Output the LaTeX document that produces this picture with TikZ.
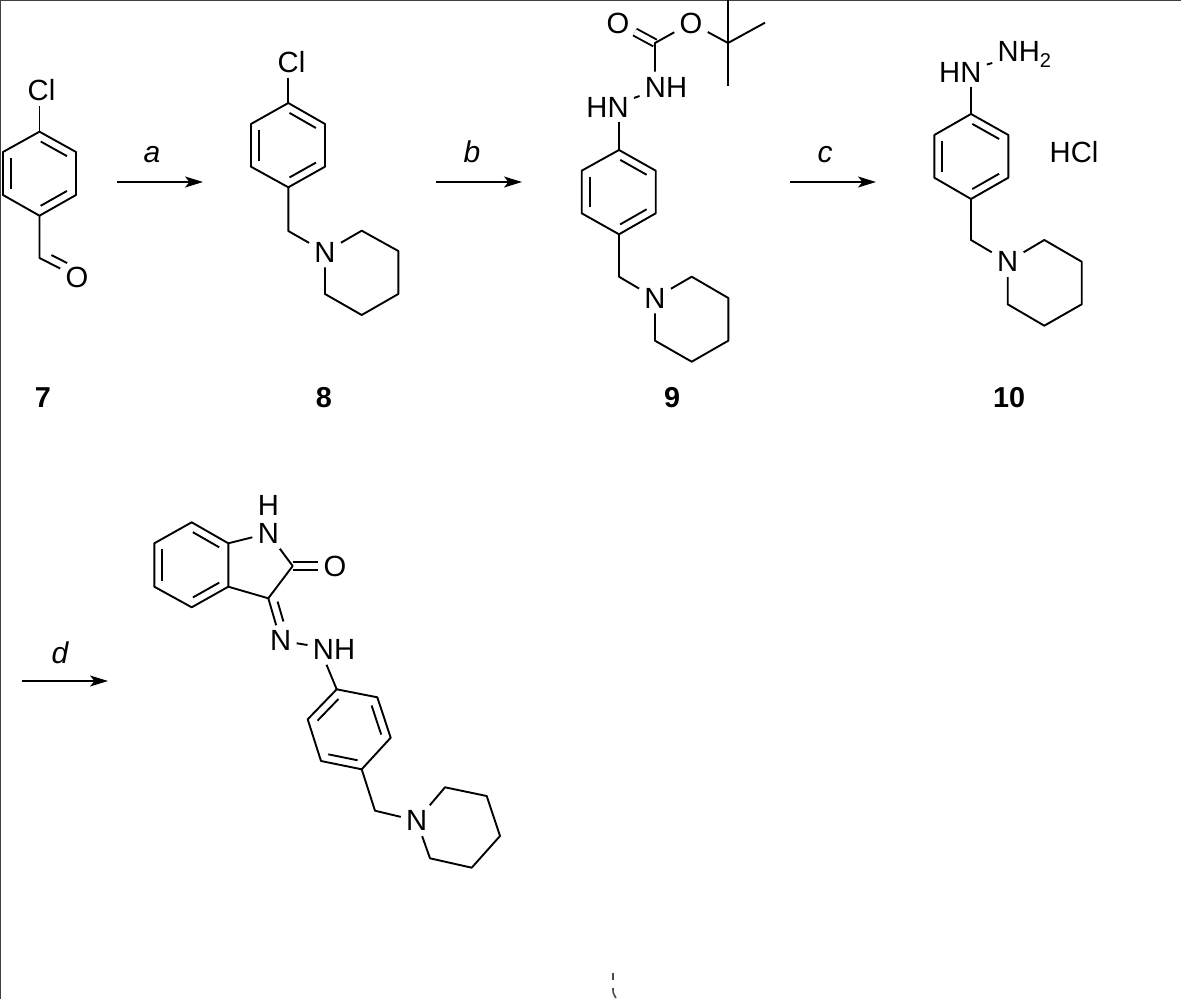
\documentclass[tikz,border=0pt]{standalone}
\usepackage{fontspec}
\setmainfont{Liberation Sans}
\usetikzlibrary{arrows.meta,calc}
\tikzset{
    bond/.style={line width=0.95pt,line join=round},
    dbond/.style={line width=0.95pt,double,double distance=2.8pt},
    atom/.style={inner sep=2.5pt,font=\fontsize{14.6}{16}\selectfont},
    cpd/.style={inner sep=0pt,font=\fontsize{14.4}{16}\selectfont\bfseries},
    rxn/.style={inner sep=0pt,anchor=base,font=\fontsize{15}{17}\selectfont\itshape},
    rxnarrow/.style={line width=0.8pt,-{Stealth[length=9pt,width=5.5pt,inset=2.2pt]}},
    frame/.style={line width=1pt,black!75},
    speck/.style={line width=0.8pt,black!70},
}
\newcommand{\inbond}[2]{\draw[bond] ($(#1)!.14!(#2)!4pt!90:(#2)$) -- ($(#1)!.86!(#2)!4pt!-90:(#1)$);}
\newcommand{\subtwo}{\raisebox{-3pt}{\fontsize{10}{10}\selectfont 2}}
\begin{document}
\begin{tikzpicture}[x=0.5pt,y=-0.5pt]
        \useasboundingbox (0,0) rectangle (1181,999);
        \coordinate (fa) at (0,999);
        \coordinate (fb) at (0,0);
        \coordinate (fc) at (1181,0);
        \draw[frame] (fa) -- (fb) -- (fc);

        \coordinate (a1) at (39.5,131.7);
        \coordinate (a2) at (76,152);
        \coordinate (a3) at (76,195);
        \coordinate (a4) at (39.5,215.7);
        \coordinate (a5) at (3,195);
        \coordinate (a6) at (3,152);
        \coordinate (a7) at (39.5,258);
        \node[atom] (cla) at (41.5,90) {Cl};
        \node[atom] (oa) at (77,277) {O};
        \draw[bond] (a1) -- (a2) -- (a3) -- (a4) -- (a5) -- (a6) -- cycle;
        \inbond{a2}{a1}
        \inbond{a4}{a3}
        \inbond{a6}{a5}
        \draw[bond] (cla.south -| a1) -- (a1);
        \draw[bond] (a4) -- (a7) -- (oa);
        \draw[bond] ($(a7)!.22!(oa)!4pt!90:(oa)$) -- ($(a7)!.64!(oa)!4pt!-90:(a7)$);
        \node[cpd] (n7) at (43,398) {7};

        \coordinate (ra1) at (117,182);
        \coordinate (ra2) at (203,182);
        \draw[rxnarrow] (ra1) -- (ra2);
        \node[rxn] (la) at (152,163) {a};

        \coordinate (b1) at (288.3,103);
        \coordinate (b2) at (325,124);
        \coordinate (b3) at (325,166.7);
        \coordinate (b4) at (288.3,187.3);
        \coordinate (b5) at (251,166.7);
        \coordinate (b6) at (251,124);
        \coordinate (b7) at (288.3,231);
        \coordinate (b8) at (361.7,230.7);
        \coordinate (b9) at (398.3,251);
        \coordinate (b10) at (398.3,294);
        \coordinate (b11) at (361.7,315);
        \coordinate (b12) at (325,294);
        \node[atom] (clb) at (291.5,62) {Cl};
        \node[atom] (nb) at (325,252) {N};
        \draw[bond] (b1) -- (b2) -- (b3) -- (b4) -- (b5) -- (b6) -- cycle;
        \inbond{b2}{b1}
        \inbond{b4}{b3}
        \inbond{b6}{b5}
        \draw[bond] (clb.south -| b1) -- (b1);
        \draw[bond] (b4) -- (b7) -- (nb);
        \draw[bond] (nb) -- (b8) -- (b9) -- (b10) -- (b11) -- (b12) -- (nb);
        \node[cpd] (n8) at (324,398) {8};

        \coordinate (rb1) at (436,182);
        \coordinate (rb2) at (522,182);
        \draw[rxnarrow] (rb1) -- (rb2);
        \node[rxn] (lb) at (472,163) {b};

        \coordinate (c1) at (619,150);
        \coordinate (c2) at (655.7,170.7);
        \coordinate (c3) at (655.7,213.3);
        \coordinate (c4) at (619,234.3);
        \coordinate (c5) at (581.7,213.3);
        \coordinate (c6) at (581.7,170.7);
        \coordinate (c7) at (619,276.7);
        \coordinate (c8) at (691.7,276.7);
        \coordinate (c9) at (728.3,298);
        \coordinate (c10) at (728.3,340.7);
        \coordinate (c11) at (691.7,361.7);
        \coordinate (c12) at (655,340.7);
        \coordinate (c13) at (655,43);
        \coordinate (c14) at (728,43);
        \coordinate (c15) at (728,0);
        \coordinate (c16) at (765,22.7);
        \coordinate (c17) at (728,85.7);
        \node[atom] (hnc) at (607.5,107) {HN};
        \node[atom] (nhc) at (666,87) {NH};
        \node[atom] (oc1) at (618,23) {O};
        \node[atom] (oc2) at (691,23) {O};
        \node[atom] (nc) at (655,298) {N};
        \draw[bond] (c1) -- (c2) -- (c3) -- (c4) -- (c5) -- (c6) -- cycle;
        \inbond{c2}{c1}
        \inbond{c4}{c3}
        \inbond{c6}{c5}
        \draw[bond] (hnc.south -| c1) -- (c1);
        \draw[bond] (hnc) -- (nhc);
        \draw[dbond] (c13) -- (oc1);
        \draw[bond] (nhc.north -| c13) -- (c13) -- (oc2);
        \draw[bond] (oc2) -- (c14);
        \draw[bond] (c14) -- (c15);
        \draw[bond] (c14) -- (c16);
        \draw[bond] (c14) -- (c17);
        \draw[bond] (c4) -- (c7) -- (nc);
        \draw[bond] (nc) -- (c8) -- (c9) -- (c10) -- (c11) -- (c12) -- (nc);
        \node[cpd] (n9) at (672,398) {9};

        \coordinate (rc1) at (790,182);
        \coordinate (rc2) at (876,182);
        \draw[rxnarrow] (rc1) -- (rc2);
        \node[rxn] (lc) at (825,163) {c};

        \coordinate (d1) at (971,114);
        \coordinate (d2) at (1008.3,135);
        \coordinate (d3) at (1008.3,177.7);
        \coordinate (d4) at (971,199);
        \coordinate (d5) at (934.3,177.7);
        \coordinate (d6) at (934.3,135);
        \coordinate (d7) at (971,240);
        \coordinate (d8) at (1044.3,240);
        \coordinate (d9) at (1081.7,261.7);
        \coordinate (d10) at (1081.7,304.3);
        \coordinate (d11) at (1044.3,325.7);
        \coordinate (d12) at (1007.7,304.3);
        \node[atom] (hnd) at (960.3,72) {HN};
        \node[atom] (nhd) at (1024.3,54) {NH\subtwo};
        \node[atom] (hcl) at (1074,152) {HCl};
        \node[atom] (nd) at (1007.7,261.7) {N};
        \draw[bond] (d1) -- (d2) -- (d3) -- (d4) -- (d5) -- (d6) -- cycle;
        \inbond{d2}{d1}
        \inbond{d4}{d3}
        \inbond{d6}{d5}
        \draw[bond] (hnd.south -| d1) -- (d1);
        \draw[bond] (hnd) -- (nhd);
        \draw[bond] (d4) -- (d7) -- (nd);
        \draw[bond] (nd) -- (d8) -- (d9) -- (d10) -- (d11) -- (d12) -- (nd);
        \node[cpd] (n10) at (1009,398) {10};

        \coordinate (rd1) at (22,681);
        \coordinate (rd2) at (108,681);
        \draw[rxnarrow] (rd1) -- (rd2);
        \node[rxn] (ld) at (60,663) {d};

        \coordinate (e1) at (191.7,522.3);
        \coordinate (e2) at (228.3,543.3);
        \coordinate (e3) at (228.3,586.7);
        \coordinate (e4) at (191.7,607.3);
        \coordinate (e5) at (154.3,586.7);
        \coordinate (e6) at (154.3,543.3);
        \coordinate (e7) at (292.7,566);
        \coordinate (e8) at (268.3,598.3);
        \node[atom] (ne1) at (268.3,533.3) {N};
        \node[atom] (he1) at (268.3,505) {H};
        \node[atom] (oe) at (335,566) {O};
        \node[atom] (ne2) at (280.7,640.7) {N};
        \node[atom] (nhe) at (334,649.3) {NH};
        \draw[bond] (e1) -- (e2) -- (e3) -- (e4) -- (e5) -- (e6) -- cycle;
        \inbond{e2}{e1}
        \inbond{e4}{e3}
        \inbond{e6}{e5}
        \draw[dbond] (e7) -- (oe);
        \draw[bond] (e2) -- (ne1);
        \draw[bond] (ne1) -- (e7) -- (e8) -- (e3);
        \draw[bond] (e8) -- (ne2);
        \draw[bond] ($(e8)!.13!(ne2)!4pt!90:(ne2)$) -- ($(e8)!.6!(ne2)!4pt!-90:(e8)$);
        \draw[bond] (ne2) -- (nhe);

        \coordinate (f1) at (336.7,689.3);
        \coordinate (f2) at (377.3,697.3);
        \coordinate (f3) at (390.7,737.7);
        \coordinate (f4) at (361.7,769.3);
        \coordinate (f5) at (321,761);
        \coordinate (f6) at (307.7,719.3);
        \coordinate (f7) at (375,810.7);
        \coordinate (f8) at (445,787.3);
        \coordinate (f9) at (486.7,796);
        \coordinate (f10) at (500,836);
        \coordinate (f11) at (471.7,867.7);
        \coordinate (f12) at (430,858.3);
        \node[atom] (nf) at (416.7,820.7) {N};
        \draw[bond] (f1) -- (f2) -- (f3) -- (f4) -- (f5) -- (f6) -- cycle;
        \inbond{f1}{f6}
        \inbond{f3}{f2}
        \inbond{f5}{f4}
        \draw[bond] ($(nhe.south west)+(19,0)$) -- (f1);
        \draw[bond] (f4) -- (f7) -- (nf);
        \draw[bond] (nf) -- (f8) -- (f9) -- (f10) -- (f11) -- (f12) -- (nf);

        \coordinate (sa) at (613,973);
        \coordinate (sb) at (613,980);
        \coordinate (sc) at (613,988);
        \coordinate (sd) at (616,998);
        \draw[speck] (sa) -- (sb);
        \draw[speck] (sc) .. controls (613,993) .. (sd);
    \end{tikzpicture}
\end{document}
